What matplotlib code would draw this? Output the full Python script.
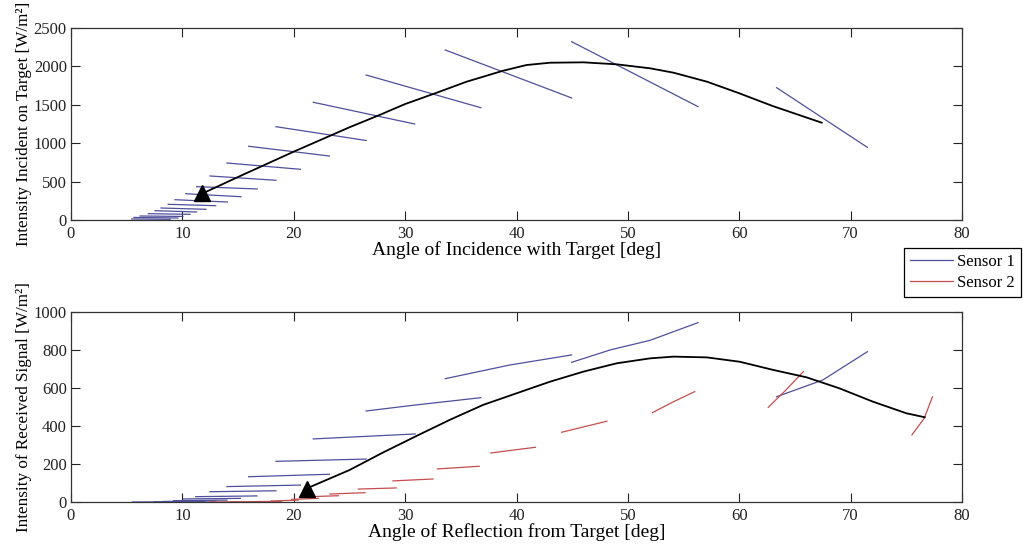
import matplotlib
matplotlib.use("Agg")
import matplotlib.pyplot as plt
from matplotlib.lines import Line2D

plt.rcParams['font.family'] = ['Liberation Serif', 'DejaVu Serif']
plt.rcParams['font.size'] = 12

# ---- Incident intensity on target: Sensor 1 sweeps (angle [deg], intensity [W/m^2])
inc_s1_x = [[63.35, 71.5], [44.95, 56.3], [33.6, 44.95], [26.5, 36.8], [21.75, 30.85],
            [18.4, 26.5], [15.95, 23.2], [14.0, 20.6], [12.48, 18.4], [11.28, 16.72],
            [10.3, 15.26], [9.34, 14.03], [8.73, 12.99], [8.08, 12.12], [7.54, 11.28],
            [6.94, 10.68], [6.2, 10.05], [5.65, 9.6], [5.45, 8.9]]
inc_s1_y = [[1723, 946], [2322, 1476], [2214, 1589], [1888, 1462], [1533, 1250],
            [1215, 1035], [960, 833], [742, 660], [573, 517], [434, 404],
            [342, 303], [264, 234], [204, 186], [156, 139], [121, 104],
            [82, 74], [52, 46], [33, 26], [13, 9]]

# Incident intensity along the target trajectory
inc_path_x = [11.8, 15, 20, 25, 27.7, 30, 32.7, 35.5, 38.8, 40.9, 43, 46, 49, 52, 54.1,
              57.1, 60, 63, 67.4]
inc_path_y = [345, 560, 890, 1207, 1367, 1510, 1650, 1800, 1944, 2018, 2048, 2053, 2027,
              1975, 1918, 1801, 1650, 1484, 1267]

# ---- Received signal: Sensor 1 sweeps
rec_s1_x = [[63.35, 67.5, 71.5], [44.95, 48.4, 52.0, 56.3], [33.6, 39.4, 44.95],
            [26.5, 31.0, 36.8], [21.75, 30.9], [18.4, 26.5], [15.95, 23.2], [14.0, 20.6],
            [12.48, 18.4], [11.2, 16.7], [10.1, 15.2], [9.2, 14.0], [8.3, 13.0],
            [7.5, 12.0], [5.5, 10.5]]
rec_s1_y = [[554, 642, 791], [735, 800, 851, 944], [649, 721, 774],
            [479, 511, 549], [332, 358], [214, 226], [133, 146], [81, 89],
            [54, 59], [28, 32], [16, 19], [7, 10], [3, 5],
            [1, 2], [0, 1]]

# Received signal: Sensor 2 sweeps
rec_s2_x = [[75.5, 76.6, 77.35], [62.6, 64.2, 65.75], [52.2, 54.0, 56.0], [44.05, 48.1],
            [37.7, 41.7], [32.9, 36.65], [28.9, 32.5], [25.8, 29.2], [23.25, 26.4],
            [21.45, 24.0], [19.8, 22.2], [18.0, 20.4], [16.5, 18.9], [14.4, 16.9],
            [12.5, 15.0]]
rec_s2_y = [[353, 440, 554], [498, 590, 686], [470, 525, 581], [367, 425],
            [258, 288], [174, 188], [111, 121], [68, 74], [42, 49],
            [28, 33], [14, 19], [5, 10], [2, 4], [1, 2],
            [0.5, 1]]

# Received signal along the target trajectory
rec_path_x = [21.15, 25, 28, 31, 34, 37, 40, 43, 46, 49, 52, 54.1, 57.1, 60.05, 63.05,
              66.05, 69, 72, 75, 76.65]
rec_path_y = [71, 168, 260, 347, 432, 511, 572, 633, 686, 730, 756, 765, 761, 738, 695,
              656, 598, 528, 467, 446]

x_ticks = [0, 10, 20, 30, 40, 50, 60, 70, 80]
inc_ticks = [0, 500, 1000, 1500, 2000, 2500]
rec_ticks = [0, 200, 400, 600, 800, 1000]

c_s1 = '#4f4f9c'
c_s2 = '#c44e4e'

fig = plt.figure(figsize=(10.23, 5.46), dpi=100)
ax1 = fig.add_axes([0.0694, 0.5971, 0.871, 0.3516])
ax2 = fig.add_axes([0.0694, 0.0806, 0.871, 0.348])


def style(ax, yticks, xlabel, ylabel):
    ax.set_xlim(0, 80)
    ax.set_ylim(yticks[0], yticks[-1])
    ax.set_xticks(x_ticks)
    ax.set_yticks(yticks)
    ax.tick_params(direction='in', length=6.5, width=0.8, top=True, right=True,
                   labelsize=12, colors='#222222', pad=3)
    ax.tick_params(axis='x', pad=4)
    for s in ax.spines.values():
        s.set_color('#333333')
        s.set_linewidth(0.9)
    ax.set_xlabel(xlabel, fontsize=14, labelpad=0)
    ax.set_ylabel(ylabel, fontsize=12.3, labelpad=1)


for xs, ys in zip(inc_s1_x, inc_s1_y):
    ax1.plot(xs, ys, color=c_s1, lw=0.9)
ax1.plot(inc_path_x, inc_path_y, color='black', lw=1.3)
ax1.plot(inc_path_x[0], inc_path_y[0], marker='^', color='black', markersize=11)
style(ax1, inc_ticks, 'Angle of Incidence with Target [deg]',
      'Intensity Incident on Target [W/m²]')

for xs, ys in zip(rec_s1_x, rec_s1_y):
    ax2.plot(xs, ys, color=c_s1, lw=0.9)
for xs, ys in zip(rec_s2_x, rec_s2_y):
    ax2.plot(xs, ys, color=c_s2, lw=0.9)
ax2.plot(rec_path_x, rec_path_y, color='black', lw=1.3)
ax2.plot(rec_path_x[0], rec_path_y[0], marker='^', color='black', markersize=11)
style(ax2, rec_ticks, 'Angle of Reflection from Target [deg]',
      'Intensity of Received Signal [W/m²]')

handles = [Line2D([], [], color=c_s1, lw=0.9), Line2D([], [], color=c_s2, lw=0.9)]
leg = fig.legend(handles, ['Sensor 1', 'Sensor 2'], loc='upper right',
                 bbox_to_anchor=(0.998, 0.546), fontsize=12, fancybox=False,
                 framealpha=1, edgecolor='black', handlelength=2.6, handletextpad=0.25,
                 borderpad=0.35, labelspacing=0.3, borderaxespad=0)
leg.get_frame().set_linewidth(0.9)

fig.savefig('out.png', dpi=100)
